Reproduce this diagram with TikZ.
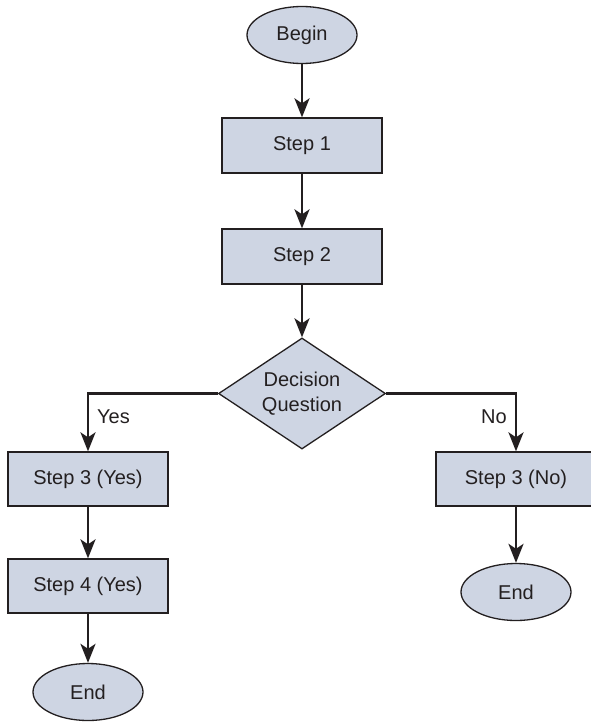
\documentclass[tikz,border=0pt]{standalone}
\usepackage{fontspec}
\setmainfont{Liberation Sans}
\usetikzlibrary{shapes.geometric,arrows.meta}
\definecolor{boxfill}{RGB}{206,213,227}
\definecolor{ink}{RGB}{35,31,32}
\tikzset{
  base/.style={draw=ink, line width=1.3pt, fill=boxfill, text=ink, inner sep=0pt,
    font=\fontsize{20}{25}\selectfont},
  terminal/.style={base, ellipse, minimum width=110pt, minimum height=57pt},
  stepbox/.style={base, rectangle, minimum width=160pt, minimum height=55pt},
  decision/.style={base, diamond, shape aspect=1.5, minimum width=167pt,
    minimum height=111pt, align=center},
  flow/.style={draw=ink, line width=2.6pt,
    -{Stealth[length=19pt,width=15pt,inset=5pt]}},
  branch/.style={text=ink, font=\fontsize{20}{24}\selectfont, inner sep=0pt}
}
\begin{document}
\begin{tikzpicture}[x=1pt,y=-1pt]
\useasboundingbox (0,0) rectangle (591,723);
% main column
\node[terminal] (begin) at (302,35) {Begin};
\node[stepbox] (s1) at (302,145.5) {Step 1};
\node[stepbox] (s2) at (302,256.5) {Step 2};
\node[decision] (dec) at (302,393.5) {Decision\\Question};
% yes branch
\node[stepbox, minimum height=54pt] (s3y) at (88,479) {Step 3 (Yes)};
\node[stepbox, minimum height=54pt] (s4y) at (88,586) {Step 4 (Yes)};
\node[terminal] (endy) at (88,692) {End};
% no branch
\node[stepbox, minimum height=54pt] (s3n) at (516,479) {Step 3 (No)};
\node[terminal] (endn) at (516,592) {End};
% connectors
\draw[flow] (begin) -- (s1);
\draw[flow] (s1) -- (s2);
\draw[flow] (s2) -- (dec);
\draw[flow] (dec.west) -| (s3y.north);
\draw[flow] (dec.east) -| (s3n.north);
\draw[flow] (s3y) -- (s4y);
\draw[flow] (s4y) -- (endy);
\draw[flow] (s3n) -- (endn);
% branch labels
\node[branch, anchor=west] (yes) at (97,417) {Yes};
\node[branch, anchor=east] (no) at (507,417) {No};
\end{tikzpicture}
\end{document}
